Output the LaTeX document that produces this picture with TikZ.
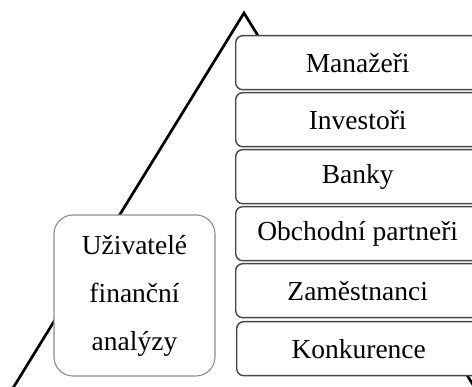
\documentclass[tikz,border=0pt]{standalone}
\usepackage{fontspec}
\setmainfont{Liberation Serif}
\begin{document}
\begin{tikzpicture}[x=1pt,y=-1pt,
  grp/.style={draw=black!72,line width=1.4pt,fill=white,rounded corners=7pt,
    minimum width=244pt,minimum height=54pt,inner sep=0pt,anchor=north west,
    font=\fontsize{27.5}{33}\selectfont},
  user/.style={draw=black!45,line width=1.1pt,fill=white,rounded corners=19pt,
    minimum width=161pt,minimum height=161pt,inner sep=0pt,align=center,
    font=\fontsize{27.5}{48}\selectfont},
  tri/.style={line width=2.7pt,draw=black}]
\clip (0,0) rectangle (472,387);
\fill[white] (0,0) rectangle (472,387);
\coordinate (apex) at (244,13);
\coordinate (bl) at (5,401);
\coordinate (br) at (483,401);
\draw[tri] (bl) -- (apex) -- (br);
\fill[white] (236,36) rectangle (480,375);
\node[grp] (m) at (235,35) {Manažeři};
\node[grp] (i) at (235,92) {Investoři};
\node[grp] (b) at (235,149) {Banky};
\node[grp] (o) at (235,206) {Obchodní partneři};
\node[grp] (z) at (235,263) {Zaměstnanci};
\node[grp] (k) at (236,321) {Konkurence};
\node[user] (u) at (134.5,295.5) {Uživatelé\\finanční\\analýzy};
\end{tikzpicture}
\end{document}
